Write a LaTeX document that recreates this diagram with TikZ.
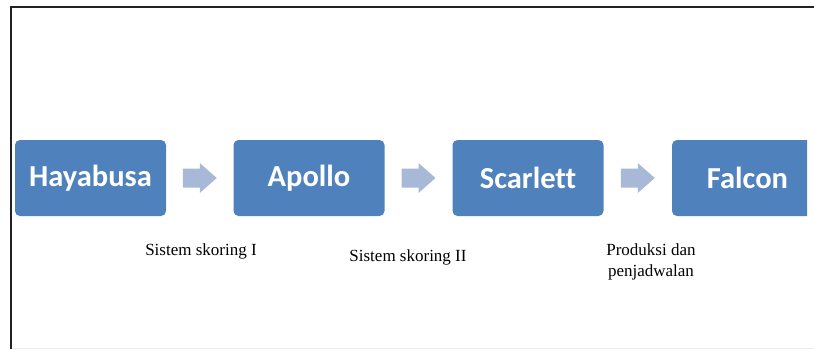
\documentclass[tikz,border=0pt]{standalone}
\usepackage{fontspec}
\setmainfont{Liberation Serif}
\newfontfamily\boxfont[Ligatures={NoCommon}]{Carlito}
\usetikzlibrary{calc}
\definecolor{stageblue}{RGB}{79,129,189}
\definecolor{stagearrow}{RGB}{168,185,216}
\definecolor{framegray}{RGB}{34,34,34}
\tikzset{
  stagebox/.style={fill=stageblue, rounded corners=5pt, minimum width=151pt,
    minimum height=76pt, inner sep=0pt, text=white,
    font=\boxfont\bfseries\fontsize{30.5}{34}\selectfont},
  flowarrow/.style={fill=stagearrow},
  caption/.style={font=\fontsize{17}{21}\selectfont, align=center, inner sep=0pt}
}
\begin{document}
\begin{tikzpicture}[x=1pt, y=-1pt]
  \useasboundingbox (0,0) rectangle (814,349);
  % frame
  \draw[gray!15, line width=1pt] (11,348) -- (814,348);
  \draw[framegray, line width=2pt] (11,349) -- (11,7) -- (814,7);

  % stages
  \node[stagebox] (hay) at (90.5,178) {Hayabusa};
  \node[stagebox] (apo) at (309,178) {Apollo};
  \node[stagebox] (sca) at (528,178) {Scarlett};
  \begin{scope}
    \clip (600,100) rectangle (807,260);
    \node[stagebox] (fal) at (747.5,178) {Falcon};
  \end{scope}

  % block arrows between the stages
  \foreach \a/\b in {hay/apo, sca/fal, apo/sca} {
    \fill[flowarrow] ($(\a.east)!0.5!(\b.west)$) ++(-17,-9.5)
      -- ++(17,0) -- ++(0,-5.5) -- ++(17,15) -- ++(-17,15)
      -- ++(0,-5.5) -- ++(-17,0) -- cycle;
  }

  % captions
  \node[caption] (c1) at (201,251) {Sistem skoring I};
  \node[caption] (c2) at (408,257) {Sistem skoring II};
  \node[caption] (c3) at (651,262) {Produksi dan\\penjadwalan};
\end{tikzpicture}
\end{document}
